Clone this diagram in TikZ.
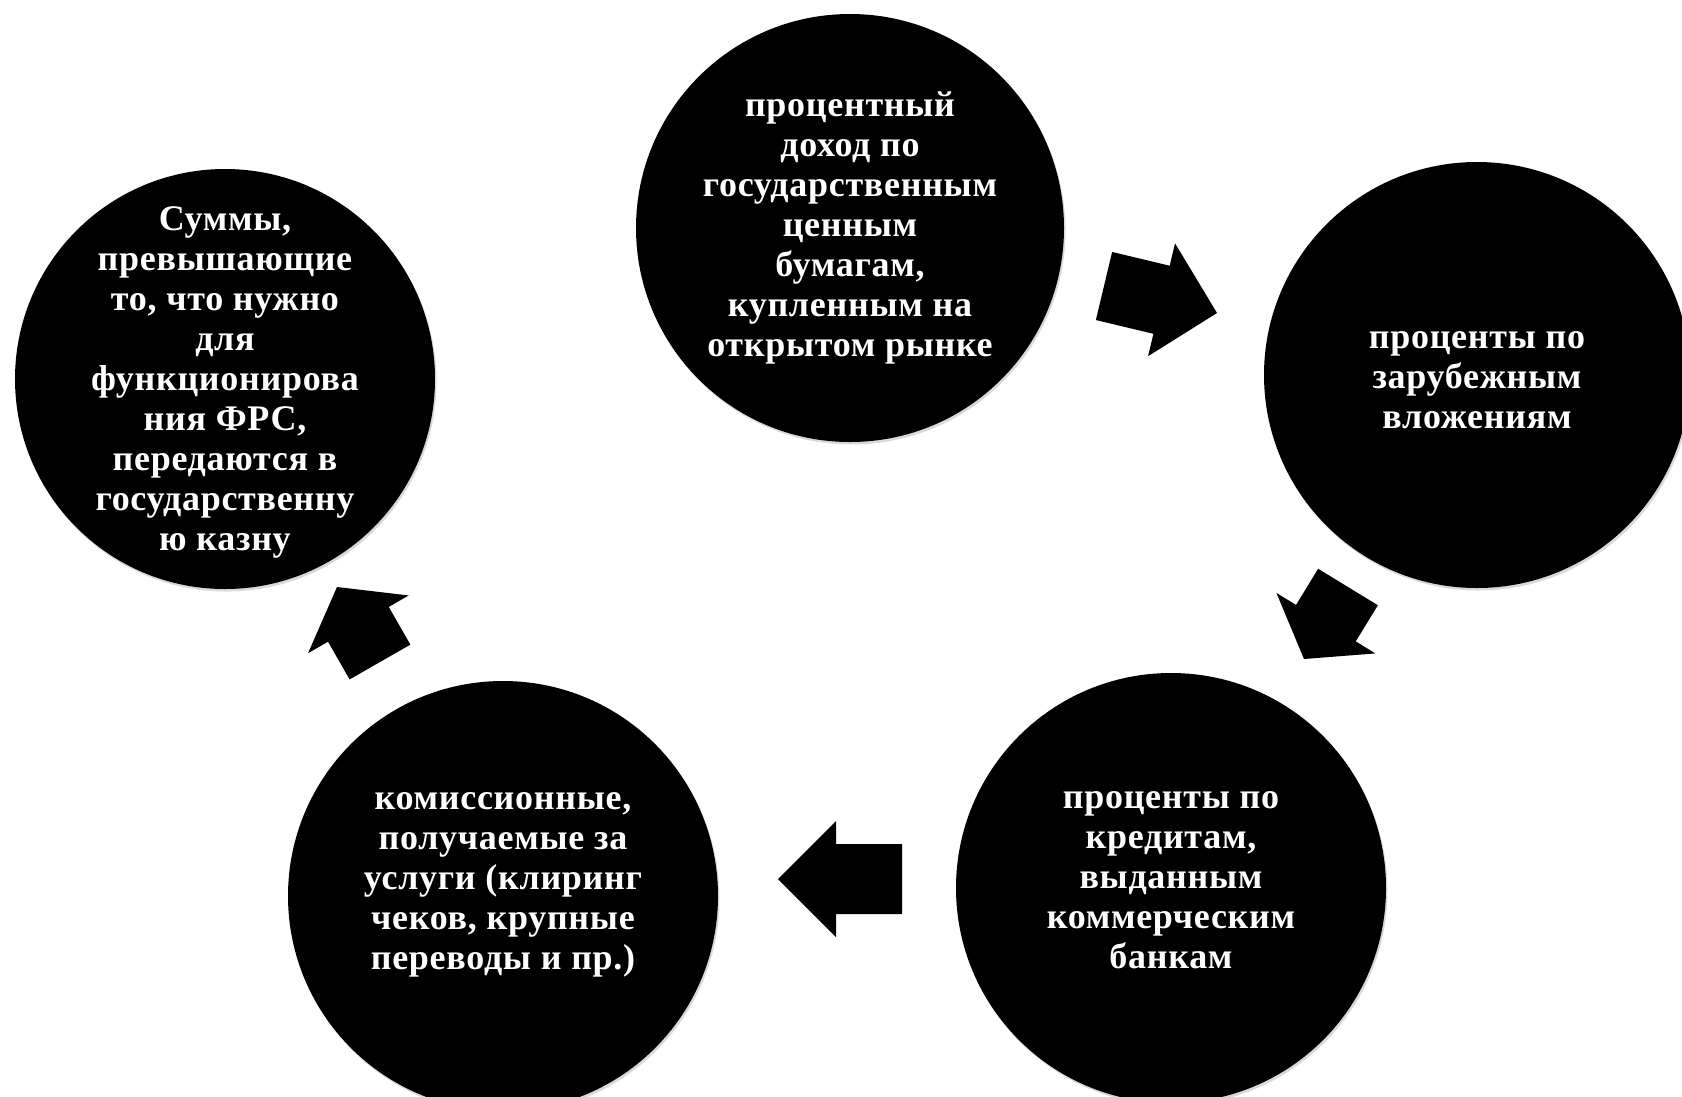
\documentclass[tikz,border=0pt]{standalone}
\usepackage{fontspec}
\setmainfont[LetterSpace=2]{Liberation Serif}
\usepackage{tikz}
\usetikzlibrary{calc,shadows}
% block arrow from tail to tip, #3 = head length
\newcommand{\cyclearrow}[3]{
    \coordinate (hb) at ($(#2)!#3!(#1)$);
    \fill[blockarrow] ($(#1)!35pt!90:(#2)$) -- ($(hb)!35pt!-90:(#1)$)
        -- ($(hb)!58pt!-90:(#1)$) -- (#2) -- ($(hb)!58pt!90:(#1)$)
        -- ($(hb)!35pt!90:(#1)$) -- ($(#1)!35pt!-90:(#2)$) -- cycle;
}
\begin{document}
\begin{tikzpicture}
    [x=1pt, y=-1pt,
    disc/.style = {shape=circle, fill=black, inner sep=0pt,
        drop shadow={shadow xshift=1.5pt, shadow yshift=-2.5pt, opacity=.3}},
    disctext/.style = {text=white, align=center, inner sep=0pt,
        font=\bfseries\fontsize{36}{40}\selectfont},
    blockarrow/.style = {fill=black}]

    \useasboundingbox (0,0) rectangle (1682,1096);

    \node[disc, minimum size=428pt] (top) at (850,228) {};
    \node[disc, minimum size=426pt] (right) at (1477,375) {};
    \node[disc, minimum size=430pt] (bright) at (1171,888) {};
    \node[disc, minimum size=430pt] (bleft) at (503,896) {};
    \node[disc, minimum size=420pt] (left) at (225,379) {};

    \node[disctext] (top text) at ([yshift=0pt]top) {процентный\\ доход по\\ государственным\\ ценным\\ бумагам,\\ купленным на\\ открытом рынке};
    \node[disctext] (right text) at ([yshift=-5pt]right) {проценты по\\ зарубежным\\ вложениям};
    \node[disctext] (bright text) at ([yshift=8pt]bright) {проценты по\\ кредитам,\\ выданным\\ коммерческим\\ банкам};
    \node[disctext] (bleft text) at ([yshift=11pt]bleft) {комиссионные,\\ получаемые за\\ услуги (клиринг\\ чеков, крупные\\ переводы и пр.)};
    \node[disctext] (left text) at ([yshift=-3pt]left) {Суммы,\\ превышающие\\ то, что нужно\\ для\\ функционирова\\ ния ФРС,\\ передаются в\\ государственну\\ ю казну};

    % arrows between the circles
    \coordinate (a1 tail) at (1104,286);  \coordinate (a1 tip) at (1217,313);
    \coordinate (a2 tail) at (1348,587);  \coordinate (a2 tip) at (1304,659);
    \coordinate (a3 tail) at (902,879);   \coordinate (a3 tip) at (778,879);
    \coordinate (a4 tail) at (380,662);   \coordinate (a4 tip) at (337,587);
    \cyclearrow{a1 tail}{a1 tip}{57pt}
    \cyclearrow{a2 tail}{a2 tip}{42pt}
    \cyclearrow{a3 tail}{a3 tip}{58pt}
    \cyclearrow{a4 tail}{a4 tip}{43pt}
\end{tikzpicture}
\end{document}
